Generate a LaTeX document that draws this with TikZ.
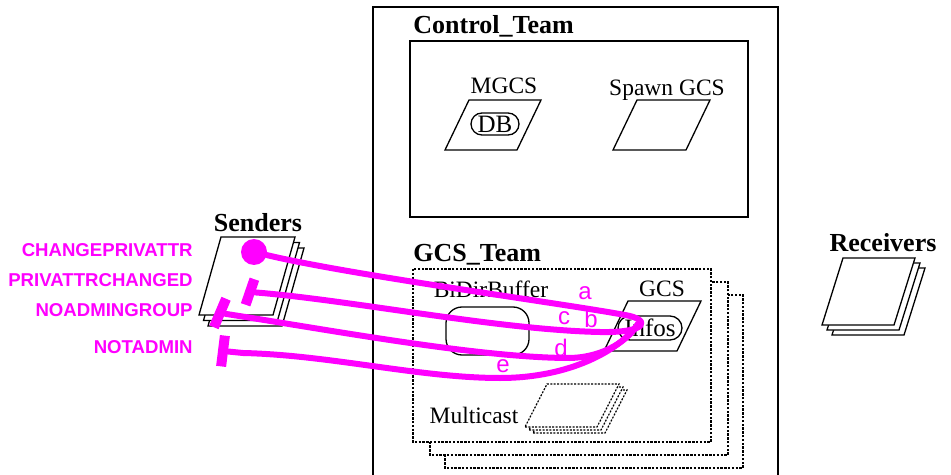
\documentclass[tikz,border=0pt]{standalone}
\usepackage{fontspec}
\setmainfont{Liberation Serif}
\newfontfamily\msgfont{Liberation Sans}
\usepackage{tikz}
\definecolor{msg}{HTML}{FF00FF}
% parallelogram: style, bottom-left x, bottom y, width, height, slant
\newcommand{\Para}[6][]{%
  \draw[line width=0.65pt,#1] (#2,#3) -- ++(#4,0) -- ++(#6,-#5) -- ++(-#4,0) -- cycle;
}
\tikzset{
  txt/.style={font=\fontsize{11.75}{14}\selectfont, inner sep=0pt},
  title/.style={font=\bfseries\fontsize{13}{15}\selectfont, inner sep=0pt},
  pill/.style={draw, line width=0.65pt, inner sep=0pt, font=\fontsize{12.5}{14}\selectfont},
  dashbox/.style={draw, fill=white, line width=0.75pt, dash pattern=on 1.2pt off 0.7pt},
  msgname/.style={text=msg, anchor=east, inner sep=0pt, font=\msgfont\bfseries\fontsize{9.3}{11}\selectfont},
  steplbl/.style={text=msg, inner sep=0pt, font=\msgfont\fontsize{12}{14}\selectfont},
  msgbar/.style={fill=msg, minimum width=5pt, inner sep=0pt},
  msgline/.style={draw=msg, line width=3pt, line cap=round, line join=round},
}
\begin{document}
\begin{tikzpicture}[x=0.5pt,y=-0.5pt]
  \useasboundingbox (0,0) rectangle (951,475);
  % outer frame
  \draw[line width=1.2pt] (373,480) -- (373,7) -- (778,7) -- (778,480);

  % Control_Team
  \node[title, anchor=base west] (ctrlTitle) at (413,34) {Control\_Team};
  \draw[line width=1pt] (410,41) rectangle (748,217);
  \node[txt, anchor=base] (mgcsLbl) at (504,94) {MGCS};
  \Para{445}{150}{72}{50}{24}
  \node[pill, rounded corners=5.5pt, minimum width=24pt, minimum height=11pt] (db) at (495,124) {DB};
  \node[txt, anchor=base] (spawnLbl) at (667,96) {Spawn GCS};
  \Para{613}{150}{73}{50}{24}

  % GCS_Team
  \node[title, anchor=base west] (gcsTitle) at (413,262) {GCS\_Team};
  \foreach \dx/\dy in {32/26,17/13,0/0}
    \draw[dashbox] (413+\dx,269+\dy) rectangle ++(298,173);
  \node[txt, anchor=base] (bufLbl) at (491,298) {BiDirBuffer};
  \node[draw, line width=0.65pt, rounded corners=8pt, minimum width=41.5pt, minimum height=24pt] (buf) at (487.5,331) {};
  \node[txt, anchor=base] (gcsLbl) at (662,297) {GCS};
  \Para{604}{351}{73}{50}{24}
  \node[pill, rounded corners=6pt, minimum width=32pt, minimum height=12pt] (infos) at (650,328) {Infos};
  \node[txt, anchor=base] (mcLbl) at (474,423) {Multicast};
  \foreach \k in {2,1,0}
    {\Para[fill=white, line width=0.6pt, dash pattern=on 1pt off 0.7pt]{525+4*\k}{427+3*\k}{72}{43}{22}}

  % Senders / Receivers
  \node[title, anchor=base] (sendLbl) at (258,232) {Senders};
  \foreach \k in {2,1,0}
    {\Para[fill=white]{199+4.5*\k}{315+5.5*\k}{74}{78}{22}}
  \node[title, anchor=base] (recvLbl) at (883,252) {Receivers};
  \foreach \k in {2,1,0}
    {\Para[fill=white]{822+5*\k}{325+5*\k}{72}{67}{21}}

  % messages
  \node[msgname] (cpaName) at (193,250) {CHANGEPRIVATTR};
  \node[msgname] (pacName) at (193,280) {PRIVATTRCHANGED};
  \node[msgname] (nagName) at (193,310) {NOADMINGROUP};
  \node[msgname] (naName) at (193,347) {NOTADMIN};

  \node[circle, fill=msg, minimum size=13pt, inner sep=0pt] (cpaDot) at (254,252) {};
  \node[msgbar, minimum height=13.5pt, rotate=-19] (pacBar) at (250,292) {};
  \node[msgbar, minimum height=15.5pt, rotate=-23] (nagBar) at (220,313) {};
  \node[msgbar, minimum height=15.5pt, rotate=-7] (naBar) at (223,351) {};
  \coordinate (gcsTip) at (638,324);

  \draw[msgline] (cpaDot) .. controls (350,275) and (560,303) .. (625,315)
    .. controls (650,319) and (650,333) .. (600,332)
    .. controls (500,330) and (350,300) .. (pacBar);
  \draw[msgline] (nagBar) .. controls (330,330) and (480,358) .. (570,358)
    .. controls (605,357) and (628,340) .. (gcsTip);
  \draw[msgline] (naBar) -- (243,353) .. controls (330,355) and (420,378) .. (500,378)
    .. controls (570,378) and (620,350) .. (gcsTip);

  \node[steplbl] (stepA) at (585,293) {a};
  \node[steplbl] (stepB) at (591,319) {b};
  \node[steplbl] (stepC) at (564,318) {c};
  \node[steplbl] (stepD) at (561,348) {d};
  \node[steplbl] (stepE) at (503,366) {e};
\end{tikzpicture}
\end{document}
